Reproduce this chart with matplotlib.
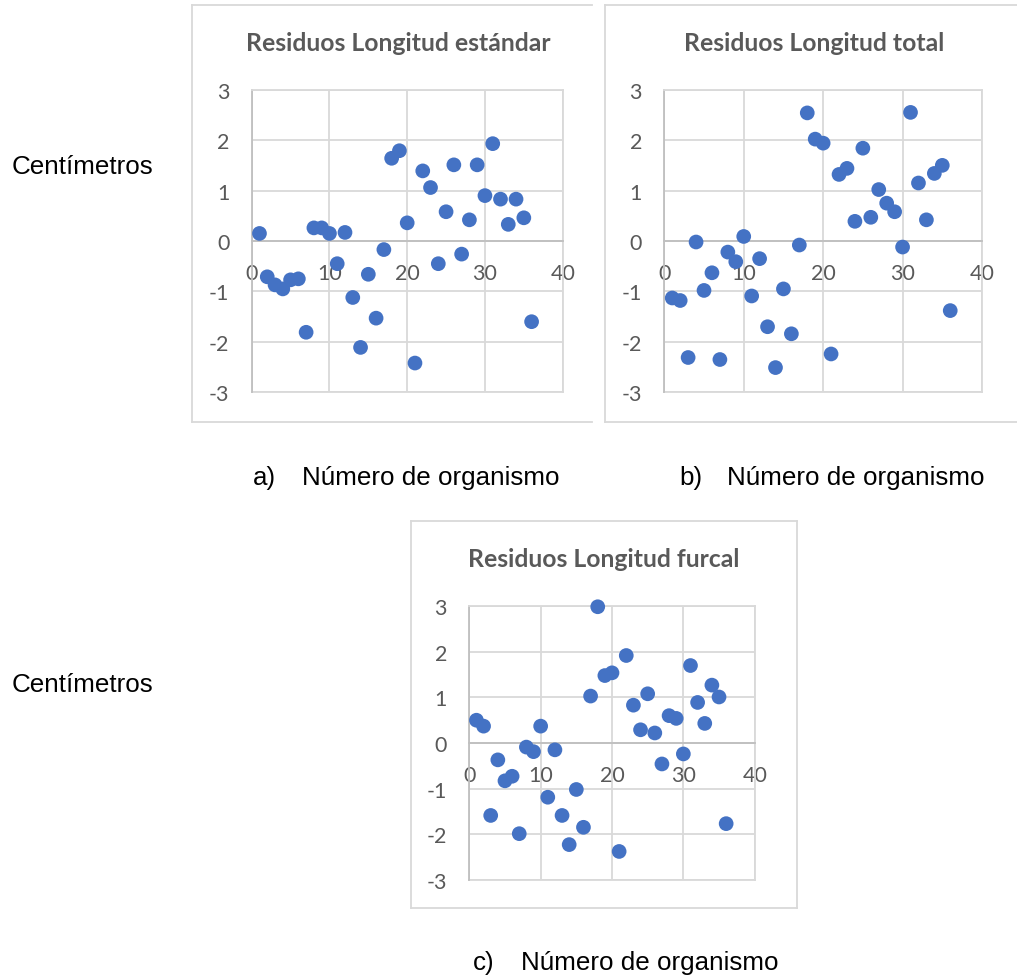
import matplotlib
matplotlib.use("Agg")
import matplotlib.pyplot as plt
from matplotlib.lines import Line2D

plt.rcParams['axes.unicode_minus'] = False

W, H = 1017, 978

organismo = list(range(1, 37))

res_estandar = [0.15, -0.71, -0.87, -0.95, -0.77, -0.75, -1.81, 0.26, 0.26, 0.15,
                -0.45, 0.17, -1.12, -2.11, -0.66, -1.53, -0.17, 1.64, 1.79, 0.36,
                -2.42, 1.39, 1.06, -0.45, 0.58, 1.51, -0.26, 0.42, 1.51, 0.90,
                1.93, 0.83, 0.33, 0.83, 0.46, -1.60]

res_total = [-1.13, -1.18, -2.31, -0.02, -0.98, -0.63, -2.35, -0.22, -0.41, 0.09,
             -1.09, -0.35, -1.70, -2.51, -0.95, -1.84, -0.08, 2.54, 2.02, 1.94,
             -2.24, 1.32, 1.44, 0.39, 1.84, 0.47, 1.02, 0.75, 0.58, -0.12,
             2.55, 1.15, 0.42, 1.34, 1.50, -1.38]

res_furcal = [0.50, 0.37, -1.59, -0.37, -0.83, -0.73, -1.99, -0.09, -0.19, 0.37,
              -1.19, -0.15, -1.59, -2.23, -1.02, -1.85, 1.03, 2.99, 1.48, 1.54,
              -2.38, 1.92, 0.83, 0.29, 1.08, 0.22, -0.46, 0.60, 0.54, -0.24,
              1.70, 0.89, 0.43, 1.27, 1.01, -1.77]

titles = ["Residuos Longitud estándar", "Residuos Longitud total", "Residuos Longitud furcal"]
xticks = [0, 10, 20, 30, 40]
yticks = [-3, -2, -1, 0, 1, 2, 3]
ylabel_text = "Centímetros"
xlabel_text = "Número de organismo"
panel_letters = ["a)", "b)", "c)"]

BLUE = "#4472C4"
GRID = "#d9d9d9"
AXIS = "#bfbfbf"
TXT = "#595959"

fig = plt.figure(figsize=(W / 100, H / 100), dpi=100)


def fx(x):
    return x / W


def fy(y):
    return 1 - y / H


def make_axes(x0, x1, y0, y1):
    return fig.add_axes([fx(x0), fy(y1), fx(x1) - fx(x0), (y1 - y0) / H])


def frame(x0, y0, x1, y1, right=True):
    segs = [((x0, x0), (y0, y1)), ((x0, x1), (y0, y0)), ((x0, x1), (y1, y1))]
    if right:
        segs.append(((x1, x1), (y0, y1)))
    for xs, ys in segs:
        fig.add_artist(Line2D([fx(v) for v in xs], [fy(v) for v in ys],
                              color=GRID, lw=1.3, transform=fig.transFigure))


def draw_panel(ax, values, title, tcx, tby):
    ax.set_xlim(0, 40)
    ax.set_ylim(-3, 3)
    ax.set_xticks(xticks)
    ax.set_yticks(yticks)
    ax.grid(True, color=GRID, lw=1.3, zorder=0)
    ax.set_axisbelow(True)
    for s in ['top', 'right']:
        ax.spines[s].set_color(GRID)
        ax.spines[s].set_linewidth(1.3)
    ax.spines['left'].set_color(AXIS)
    ax.spines['left'].set_linewidth(1.3)
    ax.spines['bottom'].set_position(('data', 0))
    ax.spines['bottom'].set_color(AXIS)
    ax.spines['bottom'].set_linewidth(1.3)
    ax.axhline(-3, color=GRID, lw=1.3, clip_on=False, zorder=0)
    ax.tick_params(axis='both', length=0, labelsize=15.5, labelcolor=TXT)
    ax.tick_params(axis='x', pad=16)
    ax.tick_params(axis='y', pad=16)
    for lab in ax.get_xticklabels() + ax.get_yticklabels():
        lab.set_family('Lato')
    ax.scatter(organismo, values, s=112, color=BLUE, edgecolors='none',
               zorder=3, clip_on=False)
    fig.text(fx(tcx), fy(tby), title, ha='center', va='baseline',
             fontsize=17.8, fontweight='bold', color=TXT, family='Lato')


# frames
frame(192, 5.5, 592, 423, right=False)
frame(605, 5.5, 1030, 423, right=False)
frame(410.7, 521.7, 796.5, 909.3, right=True)

ax_a = make_axes(251.7, 562.7, 90.7, 393.3)
ax_b = make_axes(664.3, 982.0, 90.7, 393.3)
ax_c = make_axes(469.3, 754.7, 607.3, 880.7)

draw_panel(ax_a, res_estandar, titles[0], 398, 51)
draw_panel(ax_b, res_total, titles[1], 814.5, 51)
draw_panel(ax_c, res_furcal, titles[2], 603.3, 566.7)

LBL = dict(fontsize=18.7, color='black', family='Liberation Sans', va='baseline', ha='left')
fig.text(fx(12), fy(173.6), ylabel_text, **LBL)
fig.text(fx(12), fy(691.6), ylabel_text, **LBL)

fig.text(fx(253), fy(485.5), panel_letters[0], **LBL)
fig.text(fx(302), fy(485.5), xlabel_text, **LBL)
fig.text(fx(679.3), fy(485.5), panel_letters[1], **LBL)
fig.text(fx(727.3), fy(485.5), xlabel_text, **LBL)
fig.text(fx(472.7), fy(970.5), panel_letters[2], **LBL)
fig.text(fx(520.7), fy(970.5), xlabel_text, **LBL)

fig.savefig("out.png", dpi=100, facecolor='white')
